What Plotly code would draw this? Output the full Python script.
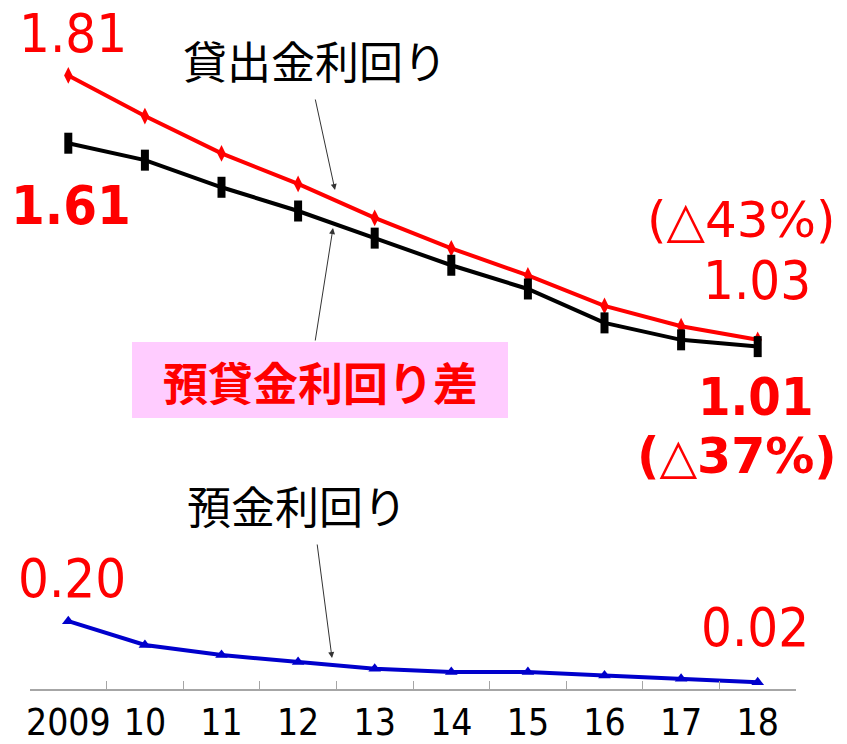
import plotly.graph_objects as go

years = ["2009", "10", "11", "12", "13", "14", "15", "16", "17", "18"]
loan_yield = [1.81, 1.69, 1.58, 1.49, 1.39, 1.30, 1.22, 1.13, 1.07, 1.03]
spread = [1.61, 1.56, 1.48, 1.41, 1.33, 1.25, 1.18, 1.08, 1.03, 1.01]
deposit_yield = [0.20, 0.13, 0.10, 0.08, 0.06, 0.05, 0.05, 0.04, 0.03, 0.02]

W, H = 847, 744
L, R, T, B = 30, 51, 11, 55
PW, PH = W - L - R, H - T - B


def pp(xp, yp):
    return (xp - L) / PW, (H - B - yp) / PH


fig = go.Figure()
fig.add_trace(go.Scatter(x=years, y=loan_yield, mode="lines+markers",
                         line=dict(color="#ff0000", width=4),
                         marker=dict(symbol="diamond-tall", size=12, color="#ff0000")))
fig.add_trace(go.Scatter(x=years, y=spread, mode="lines+markers",
                         line=dict(color="#000000", width=4),
                         marker=dict(symbol="line-ns-open", size=15,
                                     line=dict(color="#000000", width=8))))
fig.add_trace(go.Scatter(x=years, y=deposit_yield, mode="lines+markers",
                         line=dict(color="#0000cc", width=4),
                         marker=dict(symbol="triangle-up", size=11, color="#0000cc")))

NUM = "DejaVu Sans Condensed"
JP = "Noto Sans CJK JP"
ann = []


def text(t, xp, yp, size, color="#ff0000", family=NUM, bold=False):
    x, y = pp(xp, yp)
    ann.append(dict(text=t, x=x, y=y, xref="paper", yref="paper", showarrow=False,
                    xanchor="center", yanchor="middle",
                    font=dict(size=size, color=color, family=family,
                              weight="bold" if bold else "normal")))


def arrow(tx, ty, sx, sy):
    x, y = pp(tx, ty)
    ann.append(dict(text="", x=x, y=y, xref="paper", yref="paper", showarrow=True,
                    ax=sx - tx, ay=sy - ty, arrowhead=2, arrowsize=1.2,
                    arrowwidth=1, arrowcolor="#333333"))


text("1.81", 73, 33, 54)
text("1.61", 71, 205, 54, bold=True)
text("0.20", 72, 578, 54)
text("0.02", 755, 627, 54)
text("1.03", 757, 281, 54)
text("(△43%)", 741, 220, 50, family="DejaVu Sans")
text("1.01", 755, 397, 52, bold=True)
text("(△37%)", 737, 456, 49, family="DejaVu Sans", bold=True)
text("貸出金利回り", 315, 60, 44, color="#000000", family=JP)
text("預金利回り", 297, 505, 44, color="#000000", family=JP)

arrow(335, 190, 315, 98)
arrow(333, 228, 315, 342)
arrow(332, 658, 317, 543)

text("預貸金利回り差", 320, 381, 45, family=JP, bold=True)

x0, y0 = pp(132, 418)
x1, y1 = pp(508, 342)
fig.add_shape(type="rect", xref="paper", yref="paper", x0=x0, y0=y0, x1=x1, y1=y1,
              fillcolor="#ffccff", line=dict(width=0), layer="below")

fig.update_layout(
    width=W, height=H, margin=dict(l=L, r=R, t=T, b=B, autoexpand=False),
    paper_bgcolor="white", plot_bgcolor="white", showlegend=False,
    annotations=ann,
    xaxis=dict(type="category", range=[-0.5, 9.5], showgrid=False, zeroline=False,
               automargin=False, tickangle=0,
               showline=True, linecolor="#a6a6a6", linewidth=2,
               ticks="inside", tickson="boundaries", ticklen=8, tickcolor="#a6a6a6",
               tickwidth=1, tickfont=dict(family=NUM, size=37, color="#000000")),
    yaxis=dict(range=[0, 2.0], visible=False, showgrid=False, zeroline=False),
)

fig.write_html("out.html")
